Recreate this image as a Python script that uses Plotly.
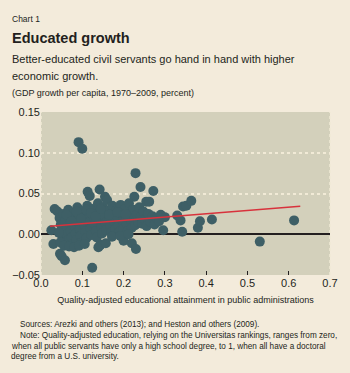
import plotly.graph_objects as go

# Quality-adjusted educational attainment (x) vs GDP growth per capita (y)
edu = [0.091, 0.100, 0.229, 0.241, 0.272, 0.113, 0.118, 0.142, 0.155, 0.226,
       0.255, 0.262, 0.033, 0.025, 0.030, 0.046, 0.050, 0.058, 0.124, 0.139,
       0.144, 0.157, 0.200, 0.220, 0.230, 0.296, 0.300, 0.330, 0.338, 0.342,
       0.344, 0.352, 0.364, 0.380, 0.385, 0.414, 0.530, 0.613,
       0.040, 0.045, 0.048, 0.050, 0.052, 0.055, 0.058, 0.060, 0.062, 0.064,
       0.066, 0.068, 0.070, 0.072, 0.074, 0.076, 0.078, 0.080, 0.082, 0.084,
       0.086, 0.088, 0.090, 0.092, 0.094, 0.096, 0.098, 0.100, 0.103, 0.105,
       0.108, 0.110, 0.112, 0.115, 0.118, 0.120, 0.122, 0.125, 0.128, 0.130,
       0.133, 0.135, 0.138, 0.140, 0.143, 0.146, 0.148, 0.150, 0.153, 0.156,
       0.158, 0.160, 0.163, 0.166, 0.168, 0.170, 0.173, 0.176, 0.178, 0.180,
       0.183, 0.186, 0.188, 0.190, 0.193, 0.196, 0.198, 0.200, 0.203, 0.206,
       0.208, 0.210, 0.213, 0.216, 0.218, 0.220, 0.223, 0.226, 0.228, 0.232,
       0.235, 0.238, 0.242, 0.245, 0.248, 0.252, 0.256, 0.260, 0.265, 0.270,
       0.275, 0.280, 0.286, 0.290, 0.043, 0.047, 0.056, 0.068, 0.080, 0.092,
       0.106, 0.062, 0.074, 0.086, 0.097, 0.109, 0.121, 0.132, 0.145, 0.165,
       0.185, 0.205, 0.172, 0.192, 0.212]
growth = [0.113, 0.105, 0.075, 0.058, 0.053, 0.052, 0.047, 0.055, 0.046, 0.046,
          0.040, 0.040, 0.031, 0.005, -0.012, -0.024, -0.027, -0.032, -0.041, -0.016,
          -0.013, -0.011, -0.008, -0.011, -0.018, 0.005, 0.021, 0.023, 0.017, 0.003,
          0.034, 0.035, 0.041, 0.008, 0.016, 0.018, -0.009, 0.017,
          0.028, 0.020, 0.012, 0.004, -0.004, 0.025, 0.016, 0.008, 0.000, -0.008,
          0.030, 0.020, 0.012, 0.004, -0.004, -0.012, 0.026, 0.017, 0.009, 0.001,
          -0.007, 0.033, 0.023, 0.014, 0.006, -0.002, -0.010, 0.028, 0.019, 0.011,
          0.003, -0.005, 0.035, 0.024, 0.015, 0.007, -0.001, 0.031, 0.021, 0.012,
          0.004, -0.004, 0.038, 0.027, 0.018, 0.009, 0.001, 0.033, 0.023, 0.014,
          0.005, 0.042, 0.029, 0.019, 0.010, 0.002, 0.035, 0.025, 0.015, 0.006,
          0.030, 0.020, 0.011, 0.003, 0.036, 0.026, 0.016, 0.007, 0.031, 0.021,
          0.012, 0.004, 0.038, 0.027, 0.017, 0.008, 0.030, 0.020, 0.011, 0.024,
          0.015, 0.033, 0.022, 0.013, 0.028, 0.018, 0.010, 0.025, 0.015, 0.022,
          0.012, 0.020, 0.016, 0.024, 0.002, -0.010, -0.014, -0.015, -0.016, -0.014,
          -0.012, 0.024, 0.016, 0.028, 0.019, 0.030, 0.026, 0.022, 0.031, 0.024,
          0.027, 0.025, -0.003, -0.002, 0.000]

trend_x = [0.022, 0.628]
trend_y = [0.0098, 0.0345]

x_ticks = [0.0, 0.1, 0.2, 0.3, 0.4, 0.5, 0.6, 0.7]
y_ticks = [-0.05, 0.0, 0.05, 0.10, 0.15]

FONT = "Liberation Sans, Arial, sans-serif"
BG = "#f3ebdb"
PLOT_BG = "#d3d0bb"
INK = "#231f20"

fig = go.Figure()
fig.add_trace(go.Scatter(x=edu, y=growth, mode="markers",
                         marker=dict(size=10, color="#3e5f66", line=dict(width=0)),
                         hoverinfo="skip", showlegend=False))
fig.add_trace(go.Scatter(x=trend_x, y=trend_y, mode="lines",
                         line=dict(color="#d8323c", width=1.5),
                         hoverinfo="skip", showlegend=False))

fig.update_layout(
    width=350, height=373,
    margin=dict(l=37, r=12, t=112, b=98),
    paper_bgcolor=BG, plot_bgcolor=PLOT_BG,
    font=dict(family=FONT, color=INK, size=11),
    xaxis=dict(range=[0, 0.7], tickvals=x_ticks, tickformat=".1f",
               showgrid=False, zeroline=False, ticks="inside", ticklen=4,
               tickcolor=INK, tickwidth=1, tickfont=dict(size=11),
               title=dict(text="Quality-adjusted educational attainment in public administrations",
                          font=dict(size=9), standoff=8),
               showline=False),
    yaxis=dict(range=[-0.05, 0.15], tickvals=y_ticks, tickformat=".2f",
               showgrid=True, gridcolor="#f1ead6", griddash="dot", gridwidth=2,
               zeroline=True, zerolinecolor=INK, zerolinewidth=1.5,
               ticks="", tickfont=dict(size=11), showline=False),
)

# dotted frame edges
for xv in (0, 1):
    fig.add_shape(type="line", xref="x domain", yref="y domain",
                  x0=xv, x1=xv, y0=0, y1=1,
                  line=dict(color="#f1ead6", width=1.5, dash="dot"), layer="below")

texts = [
    dict(text="Chart 1", x=13, y=20, size=8.5, bold=False),
    dict(text="<b>Educated growth</b>", x=13, y=39, size=14.5, bold=True),
    dict(text="Better-educated civil servants go hand in hand with higher", x=13, y=60, size=11, bold=False),
    dict(text="economic growth.", x=13, y=77, size=11, bold=False),
    dict(text="(GDP growth per capita, 1970–2009, percent)", x=13, y=94, size=9, bold=False),
    dict(text="Sources: Arezki and others (2013); and Heston and others (2009).", x=21, y=324, size=8.2, bold=False),
    dict(text="Note: Quality-adjusted education, relying on the Universitas rankings, ranges from zero,", x=21, y=335, size=8.2, bold=False),
    dict(text="when all public servants have only a high school degree, to 1, when all have a doctoral", x=12, y=346, size=8.2, bold=False),
    dict(text="degree from a U.S. university.", x=12, y=356, size=8.2, bold=False),
]
for t in texts:
    px = t["x"] - 8
    fig.add_annotation(text=t["text"], xref="paper", yref="paper",
                       x=(px - 37) / 301.0, y=(275 - t["y"]) / 162.5,
                       xanchor="left", yanchor="middle", showarrow=False,
                       font=dict(family=FONT, size=t["size"], color=INK))

fig.write_html("out.html")
